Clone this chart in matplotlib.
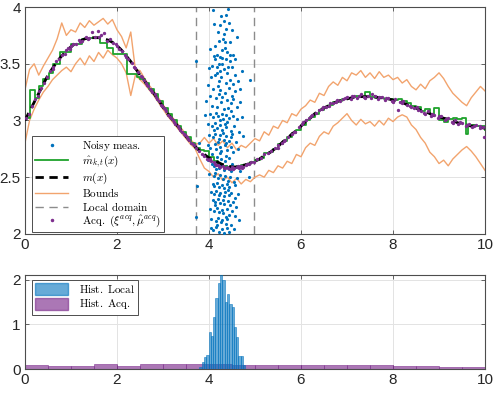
import matplotlib
matplotlib.use("Agg")
import matplotlib.pyplot as plt
from matplotlib.patches import Patch
from matplotlib.lines import Line2D

plt.rcParams['mathtext.fontset'] = 'cm'
plt.rcParams['font.family'] = ['Liberation Sans', 'DejaVu Sans']

# ---------------- data ----------------
grid_x = [round(0.1 * i, 1) for i in range(101)]

m_true = [3.00, 3.08, 3.16, 3.24, 3.32, 3.40, 3.46, 3.52, 3.57, 3.61,
          3.65, 3.68, 3.70, 3.72, 3.73, 3.73, 3.73, 3.72, 3.71, 3.69,
          3.66, 3.62, 3.57, 3.52, 3.46, 3.40, 3.35, 3.29, 3.24, 3.18,
          3.12, 3.06, 3.01, 2.96, 2.91, 2.86, 2.81, 2.77, 2.73, 2.70,
          2.67, 2.65, 2.63, 2.61, 2.60, 2.59, 2.59, 2.60, 2.61, 2.62,
          2.64, 2.66, 2.69, 2.71, 2.74, 2.77, 2.81, 2.84, 2.88, 2.91,
          2.95, 2.99, 3.02, 3.06, 3.09, 3.11, 3.13, 3.15, 3.17, 3.18,
          3.19, 3.20, 3.21, 3.21, 3.21, 3.21, 3.21, 3.20, 3.20, 3.19,
          3.18, 3.17, 3.16, 3.14, 3.12, 3.11, 3.09, 3.08, 3.06, 3.04,
          3.03, 3.02, 3.01, 3.00, 2.98, 2.97, 2.96, 2.95, 2.95, 2.94, 2.93]

upper_bound = [3.27, 3.45, 3.50, 3.40, 3.48, 3.55, 3.62, 3.72, 3.86, 3.75,
               3.80, 3.78, 3.86, 3.82, 3.88, 3.84, 3.87, 3.90, 3.85, 3.89,
               3.80, 3.74, 3.64, 3.78, 3.45, 3.44, 3.37, 3.31, 3.26, 3.20,
               3.14, 3.08, 3.03, 2.98, 2.93, 2.88, 2.83, 2.79, 2.80, 2.85,
               2.80, 2.84, 2.78, 2.82, 2.76, 2.80, 2.74, 2.78, 2.76, 2.80,
               2.84, 2.82, 2.90, 2.87, 2.95, 2.93, 3.00, 2.98, 3.06, 3.04,
               3.10, 3.13, 3.18, 3.16, 3.24, 3.22, 3.30, 3.34, 3.31, 3.38,
               3.35, 3.42, 3.40, 3.44, 3.38, 3.42, 3.37, 3.43, 3.38, 3.40,
               3.36, 3.38, 3.33, 3.36, 3.30, 3.27, 3.32, 3.28, 3.35, 3.38,
               3.42, 3.37, 3.30, 3.24, 3.20, 3.16, 3.13, 3.20, 3.25, 3.30, 3.26]

lower_bound = [2.80, 3.00, 3.10, 3.18, 3.25, 3.30, 3.36, 3.40, 3.44, 3.47,
               3.43, 3.50, 3.55, 3.49, 3.57, 3.52, 3.60, 3.55, 3.62, 3.58,
               3.55, 3.50, 3.42, 3.22, 3.40, 3.36, 3.32, 3.27, 3.22, 3.16,
               3.10, 3.04, 2.99, 2.94, 2.89, 2.84, 2.79, 2.75, 2.66, 2.58,
               2.55, 2.50, 2.53, 2.47, 2.50, 2.45, 2.49, 2.44, 2.48, 2.46,
               2.50, 2.52, 2.50, 2.56, 2.54, 2.60, 2.58, 2.64, 2.62, 2.70,
               2.68, 2.76, 2.80, 2.78, 2.86, 2.90, 2.88, 2.95, 2.98, 3.02,
               3.06, 3.00, 2.96, 3.01, 2.97, 2.99, 2.95, 3.00, 2.96, 3.02,
               2.99, 3.03, 3.05, 3.03, 2.96, 2.92, 2.85, 2.80, 2.72, 2.68,
               2.62, 2.65, 2.60, 2.66, 2.70, 2.74, 2.77, 2.73, 2.68, 2.62, 2.56]

green_x = [0.0, 0.11, 0.22, 0.30, 0.40, 0.52, 0.62, 0.76, 1.01, 1.23, 1.38,
           1.63, 1.78, 1.92, 2.21, 2.43,
           2.5, 2.6, 2.7, 2.8, 2.9, 3.0, 3.1, 3.2, 3.3, 3.4, 3.5, 3.6, 3.7,
           3.8, 3.9, 4.0, 4.1, 4.2, 4.3, 4.4, 4.5, 4.6, 4.7, 4.8, 4.9, 5.0,
           5.1, 5.2, 5.3, 5.4, 5.5, 5.6, 5.7, 5.8, 5.9, 6.0, 6.1, 6.2, 6.3,
           6.4, 6.5, 6.6, 6.7, 6.8, 6.9, 7.0, 7.1, 7.2, 7.3, 7.4, 7.5, 7.6,
           7.7, 7.8, 7.9, 8.0, 8.1, 8.2, 8.3, 8.4, 8.5, 8.6, 8.7, 8.8, 8.9,
           9.0, 9.1, 9.2, 9.3, 9.4, 9.5, 9.58, 9.62, 9.7, 9.8, 9.9, 10.0]
green_y = [3.02, 3.27, 3.20, 3.30, 3.37, 3.42, 3.50, 3.60, 3.67, 3.72, 3.73,
           3.68, 3.64, 3.59, 3.41, 3.38,
           3.37, 3.33, 3.28, 3.23, 3.17, 3.11, 3.06, 3.00, 2.95, 2.90, 2.85, 2.80, 2.76,
           2.74, 2.73, 2.68, 2.64, 2.62, 2.60, 2.59, 2.59, 2.60, 2.61, 2.62, 2.63, 2.65,
           2.67, 2.71, 2.72, 2.75, 2.79, 2.82, 2.85, 2.89, 2.92, 2.96, 3.00, 3.03, 3.06,
           3.09, 3.12, 3.14, 3.16, 3.17, 3.19, 3.20, 3.21, 3.22, 3.21, 3.25, 3.21, 3.20,
           3.20, 3.19, 3.19, 3.18, 3.19, 3.17, 3.15, 3.13, 3.12, 3.08, 3.10, 3.06, 3.11,
           3.00, 2.99, 3.01, 3.02, 3.01, 3.02, 2.88, 2.96, 2.96, 2.95, 2.95, 2.92]

noisy_x = [4.09, 4.41, 4.33, 4.43, 4.24, 4.19, 4.37, 4.31, 4.14, 4.46, 4.28, 4.35, 4.21, 4.49,
           4.11, 4.32, 4.39, 4.17, 4.27, 4.36, 4.03, 4.53, 4.29, 4.45, 4.22, 4.61, 4.34, 4.13,
           3.72, 4.90, 4.72, 3.99, 4.07, 4.17, 4.23, 4.33, 4.39, 4.51, 4.57, 4.04, 4.13, 4.21,
           4.27, 4.37, 4.45, 4.53, 4.63, 3.97, 4.09, 4.19, 4.25, 4.35, 4.43, 4.49, 4.57, 4.67,
           4.02, 4.15, 4.21, 4.29, 4.39, 4.47, 4.53, 4.06, 4.18, 4.26, 4.32, 4.42, 4.48, 4.60,
           4.68, 3.94, 4.11, 4.24, 4.36, 4.46, 4.18, 4.28, 4.42, 4.56,
           3.92, 4.03, 4.08, 4.16, 4.20, 4.28, 4.30, 4.37, 4.43, 4.53, 4.60, 4.71, 3.98, 4.07,
           4.12, 4.18, 4.25, 4.28, 4.35, 4.38, 4.47, 4.54, 4.66, 4.00, 4.09, 4.13, 4.21, 4.25,
           4.33, 4.36, 4.43, 4.47, 4.58, 4.74, 3.97, 4.03, 4.12, 4.16, 4.24, 4.27, 4.34, 4.39,
           4.48, 4.52, 4.64, 3.79, 4.06, 4.17, 4.24, 4.36, 4.44, 4.11, 4.31, 4.49, 4.23, 4.40,
           4.19, 4.37,
           3.97, 4.06, 4.11, 4.14, 4.22, 4.26, 4.33, 4.37, 4.44, 4.50, 4.59, 4.67, 4.01, 4.10,
           4.13, 4.20, 4.23, 4.31, 4.34, 4.42, 4.46, 4.55, 4.61, 4.08, 4.11, 4.18, 4.21, 4.29,
           4.32, 4.40, 4.44, 4.57, 4.87, 3.74, 4.27, 4.35, 4.47, 4.15,
           4.05, 4.11, 4.15, 4.22, 4.25, 4.32, 4.35, 4.43, 4.47, 4.56, 4.62, 4.08, 4.12, 4.20,
           4.23, 4.30, 4.33, 4.41, 4.45, 4.53, 4.59, 4.02, 4.10, 4.18, 4.21, 4.28, 4.31, 4.39,
           4.43, 4.51, 4.57, 3.72, 4.05, 4.15, 4.19, 4.26, 4.29, 4.36, 4.40, 4.48, 4.65, 4.04,
           4.08, 4.16, 4.22, 4.29, 4.32, 4.40, 4.44, 4.54, 4.17, 4.38, 4.13, 4.42]
noisy_y = [3.97, 3.98, 3.88, 3.86, 3.84, 3.78, 3.93, 3.72, 3.66, 3.69, 3.62, 3.64, 3.70, 3.80,
           3.85, 3.76, 3.60, 3.58, 3.92, 3.81, 3.63, 3.58, 3.55, 3.52, 3.50, 3.74, 3.69, 3.54,
           3.52, 3.36, 3.44, 3.46, 3.48, 3.47, 3.44, 3.45, 3.42, 3.47, 3.40, 3.38, 3.40, 3.35,
           3.38, 3.33, 3.36, 3.32, 3.35, 3.31, 3.28, 3.30, 3.27, 3.24, 3.29, 3.22, 3.26, 3.28,
           3.22, 3.20, 3.23, 3.21, 3.18, 3.15, 3.19, 3.13, 3.12, 3.16, 3.10, 3.11, 3.08, 3.12,
           3.16, 3.17, 3.57, 3.56, 3.54, 3.58, 3.42, 3.50, 3.47, 3.54,
           3.05, 3.06, 3.03, 3.07, 3.04, 3.06, 3.01, 3.05, 3.02, 3.04, 3.01, 3.03, 2.97, 2.95,
           2.98, 2.93, 2.96, 2.92, 2.97, 2.94, 2.91, 2.95, 2.90, 2.87, 2.85, 2.88, 2.84, 2.87,
           2.83, 2.86, 2.82, 2.85, 2.81, 2.86, 2.78, 2.76, 2.79, 2.75, 2.77, 2.73, 2.78, 2.74,
           2.77, 2.72, 2.75, 2.80, 2.70, 2.68, 2.71, 2.69, 2.67, 2.92, 2.89, 2.88, 3.00, 2.99,
           2.81, 2.80,
           2.65, 2.62, 2.60, 2.63, 2.58, 2.61, 2.56, 2.60, 2.57, 2.62, 2.59, 2.55, 2.53, 2.51,
           2.54, 2.49, 2.52, 2.48, 2.51, 2.47, 2.50, 2.46, 2.49, 2.44, 2.42, 2.45, 2.41, 2.43,
           2.40, 2.44, 2.41, 2.43, 2.50, 2.42, 2.66, 2.64, 2.55, 2.57,
           2.37, 2.35, 2.38, 2.34, 2.36, 2.33, 2.37, 2.34, 2.36, 2.32, 2.35, 2.30, 2.28, 2.31,
           2.27, 2.30, 2.26, 2.29, 2.25, 2.28, 2.24, 2.22, 2.20, 2.23, 2.19, 2.21, 2.18, 2.22,
           2.17, 2.20, 2.16, 2.15, 2.13, 2.11, 2.14, 2.10, 2.12, 2.09, 2.13, 2.08, 2.12, 2.05,
           2.03, 2.06, 2.02, 2.04, 2.01, 2.05, 2.02, 2.04, 2.08, 2.15, 2.25, 2.39]

acq_x = [0.02, 0.08, 0.15, 0.22, 0.28, 0.35, 0.42, 0.48, 0.55, 0.61, 0.68, 0.74, 0.80, 0.86,
         0.93, 0.99, 1.05, 1.12, 1.18, 1.25, 1.32, 1.38, 1.45, 1.52, 1.58, 1.65, 1.72, 1.78,
         1.85, 1.92, 1.98, 2.05, 2.12, 2.18, 2.25, 2.32, 2.38, 2.45, 2.52, 2.58, 2.63, 2.68,
         2.72, 2.77, 2.82, 2.87, 2.92, 2.97, 3.02, 3.07, 3.12, 3.17, 3.22, 3.27, 3.32, 3.37,
         3.42, 3.47, 3.52, 3.57, 3.62, 3.67, 3.72, 3.78, 3.84, 3.90, 3.95, 4.00, 4.05, 4.10,
         4.15, 4.20, 4.25, 4.30, 4.35, 4.40, 4.45, 4.50, 4.55, 4.60, 4.65, 4.70, 4.75, 4.80,
         4.86, 4.92, 4.98, 5.05, 5.12, 5.20, 5.28, 5.35, 5.43, 5.50, 5.58, 5.65, 5.72, 5.80,
         5.88, 5.95, 6.02, 6.10, 6.18, 6.25, 6.32, 6.40, 6.48, 6.55, 6.62, 6.70, 6.78, 6.85,
         6.92, 7.00, 7.08, 7.15, 7.22, 7.30, 7.38, 7.45, 7.52, 7.60, 7.68, 7.75, 7.82, 7.90,
         7.98, 8.05, 8.10, 8.15, 8.22, 8.30, 8.38, 8.45, 8.52, 8.60, 8.68, 8.75, 8.82, 8.90,
         8.98, 9.05, 9.12, 9.20, 9.28, 9.35, 9.42, 9.50, 9.58, 9.65, 9.72, 9.80, 9.88, 9.95,
         9.97,
         2.55, 2.65, 2.75, 2.85, 2.95, 3.05, 3.15, 3.25, 3.35, 3.45, 3.55, 3.65, 4.02, 4.12,
         4.22, 4.32, 4.42, 4.52, 4.62, 4.72, 4.82, 5.50, 5.62, 5.85, 6.05, 6.22, 6.45, 6.60,
         6.75, 6.95, 7.10, 7.25, 7.40, 7.55, 7.70, 7.85, 8.00, 8.20, 8.40, 8.55, 8.70, 8.85,
         9.00, 9.15, 9.30, 9.45, 9.60, 9.75, 9.90, 1.00, 1.20, 1.40, 1.60, 0.30, 0.60, 0.90,
         2.00, 2.20, 2.40]
acq_y = [3.02, 3.06, 3.13, 3.19, 3.22, 3.29, 3.33, 3.38, 3.44, 3.45, 3.52, 3.54, 3.58, 3.59,
         3.64, 3.63, 3.67, 3.67, 3.71, 3.70, 3.74, 3.72, 3.78, 3.74, 3.79, 3.75, 3.77, 3.70,
         3.72, 3.68, 3.67, 3.63, 3.61, 3.58, 3.54, 3.51, 3.47, 3.43, 3.39, 3.36, 3.33, 3.30,
         3.28, 3.25, 3.23, 3.19, 3.17, 3.13, 3.11, 3.08, 3.05, 3.02, 3.00, 2.97, 2.95, 2.92,
         2.90, 2.87, 2.85, 2.83, 2.80, 2.78, 2.76, 2.73, 2.70, 2.69, 2.66, 2.65, 2.64, 2.63,
         2.61, 2.61, 2.59, 2.60, 2.58, 2.59, 2.57, 2.59, 2.58, 2.59, 2.58, 2.60, 2.59, 2.61,
         2.62, 2.63, 2.63, 2.66, 2.67, 2.70, 2.71, 2.73, 2.76, 2.78, 2.80, 2.83, 2.85, 2.88,
         2.90, 2.94, 2.97, 3.00, 3.02, 3.05, 3.07, 3.09, 3.12, 3.12, 3.15, 3.15, 3.18, 3.17,
         3.19, 3.21, 3.19, 3.22, 3.20, 3.23, 3.21, 3.22, 3.20, 3.22, 3.19, 3.21, 3.18, 3.20,
         3.17, 3.19, 3.09, 3.16, 3.17, 3.14, 3.13, 3.11, 3.12, 3.08, 3.07, 3.08, 3.04, 3.05,
         3.02, 3.04, 3.00, 3.02, 2.99, 3.00, 2.97, 2.98, 2.95, 2.97, 2.94, 2.96, 2.93, 2.94,
         2.85,
         3.38, 3.31, 3.27, 3.21, 3.14, 3.10, 3.03, 2.99, 2.93, 2.88, 2.84, 2.79, 2.66, 2.62,
         2.60, 2.58, 2.58, 2.57, 2.60, 2.58, 2.62, 2.76, 2.82, 2.90, 2.99, 3.04, 3.10, 3.13,
         3.16, 3.20, 3.22, 3.22, 3.20, 3.23, 3.21, 3.20, 3.16, 3.15, 3.12, 3.09, 3.06, 3.06,
         3.04, 3.01, 2.98, 2.99, 2.96, 2.95, 2.95, 3.66, 3.69, 3.73, 3.74, 3.26, 3.47, 3.62,
         3.66, 3.56, 3.46]

local_domain = [3.72, 4.98]

hist_local_left = 3.79
hist_local_width = 0.05
hist_local_heights = [0.05, 0.15, 0.28, 0.32, 0.82, 0.74, 1.17, 1.59, 1.93, 2.15,
                      2.00, 1.50, 1.68, 1.45, 1.39, 0.94, 0.71, 0.30, 0.30, 0.10]
hist_acq_edges = [0.5 * i for i in range(21)]
hist_acq_heights = [0.09, 0.075, 0.075, 0.11, 0.075, 0.11, 0.12, 0.12, 0.12, 0.10,
                    0.10, 0.09, 0.085, 0.10, 0.085, 0.10, 0.075, 0.075, 0.05, 0.05]

# ---------------- colors ----------------
c_blue = '#0072BD'
c_green = '#1fa32c'
c_orange = '#f2a46e'
c_purple = '#7E2F8E'
c_gray = '#8c8c8c'

fig = plt.figure(figsize=(4.99, 3.93), dpi=100)
ax1 = fig.add_axes([0.050, 0.405, 0.922, 0.577])
ax2 = fig.add_axes([0.050, 0.061, 0.922, 0.239])

def style(ax):
    ax.grid(True, color='#e3e3e3', linewidth=0.7)
    ax.set_axisbelow(True)
    for s in ax.spines.values():
        s.set_color('#4d4d4d')
        s.set_linewidth(0.8)
    ax.tick_params(direction='in', top=True, right=True, length=3,
                   width=0.6, colors='#4d4d4d', labelcolor='#262626',
                   labelsize=11, pad=3)

# top
ax1.plot(grid_x, upper_bound, color=c_orange, lw=1.0, zorder=2)
ax1.plot(grid_x, lower_bound, color=c_orange, lw=1.0, zorder=2)
for xv in local_domain:
    ax1.axvline(xv, color=c_gray, lw=1.0, ls=(0, (6, 4)), zorder=1)
ax1.plot(noisy_x, noisy_y, ls='none', marker='.', ms=2.5, color=c_blue, zorder=3)
ax1.plot(green_x, green_y, color=c_green, lw=1.3, drawstyle='steps-post', zorder=4)
ax1.plot(grid_x, m_true, color='black', lw=2.0, ls=(0, (3, 2)), zorder=5)
ax1.plot(acq_x, acq_y, ls='none', marker='.', ms=2.8, color=c_purple, zorder=6)

ax1.set_xlim(0, 10)
ax1.set_ylim(2, 4)
ax1.set_xticks([0, 2, 4, 6, 8, 10])
ax1.set_yticks([2, 2.5, 3, 3.5, 4])
ax1.set_yticklabels(['2', '2.5', '3', '3.5', '4'])
style(ax1)

handles = [
    Line2D([], [], ls='none', marker='.', ms=3, color=c_blue),
    Line2D([], [], color=c_green, lw=1.3),
    Line2D([], [], color='black', lw=2.0, ls=(0, (3, 2))),
    Line2D([], [], color=c_orange, lw=1.0),
    Line2D([], [], color=c_gray, lw=1.0, ls=(0, (6, 4))),
    Line2D([], [], ls='none', marker='.', ms=3, color=c_purple),
]
labels = [r'$\mathrm{Noisy\ meas.}$', r'$\hat{m}_{k,t}(x)$', r'$m(x)$',
          r'$\mathrm{Bounds}$', r'$\mathrm{Local\ domain}$',
          r'$\mathrm{Acq.}\ (\xi^{acq},\hat{\mu}^{acq})$']
leg = ax1.legend(handles, labels, loc='lower left', bbox_to_anchor=(0.012, 0.0),
                 fontsize=8, frameon=True, fancybox=False, framealpha=1,
                 edgecolor='#4d4d4d', handlelength=2.9, borderaxespad=0.15,
                 labelspacing=0.05, handletextpad=1.3, borderpad=0.3)
leg.get_frame().set_linewidth(0.7)

# bottom
ax2.bar(hist_acq_edges[:-1], hist_acq_heights, width=0.5, align='edge',
        color=c_purple, alpha=0.65, edgecolor=c_purple, linewidth=0.6, zorder=2)
lefts = [hist_local_left + i * hist_local_width for i in range(len(hist_local_heights))]
ax2.bar(lefts, hist_local_heights, width=hist_local_width, align='edge',
        color=c_blue, alpha=0.6, edgecolor=c_blue, linewidth=0.6, zorder=3)
ax2.set_xlim(0, 10)
ax2.set_ylim(0, 2.1)
ax2.set_xticks([0, 2, 4, 6, 8, 10])
ax2.set_yticks([0, 1, 2])
style(ax2)
h2 = [Patch(facecolor=c_blue, alpha=0.6, edgecolor=c_blue),
      Patch(facecolor=c_purple, alpha=0.65, edgecolor=c_purple)]
leg2 = ax2.legend(h2, [r'$\mathrm{Hist.\ Local}$', r'$\mathrm{Hist.\ Acq.}$'],
                  loc='upper left', bbox_to_anchor=(0.012, 0.97),
                  fontsize=8, frameon=True, fancybox=False, framealpha=1,
                  edgecolor='#4d4d4d', handlelength=2.9, handleheight=1.3,
                  borderaxespad=0.15, labelspacing=0.2, handletextpad=1.0,
                  borderpad=0.3)
leg2.get_frame().set_linewidth(0.7)

fig.savefig('out.png', dpi=100)
